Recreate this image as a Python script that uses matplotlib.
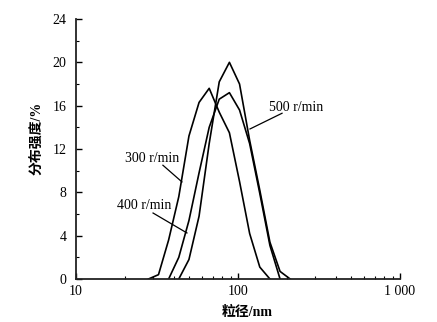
import numpy as np
import matplotlib.pyplot as plt
from matplotlib.ticker import FixedLocator, LogLocator, MultipleLocator, NullFormatter

plt.rcParams['font.family'] = ['Liberation Serif', 'Noto Sans CJK SC']

# particle size bins (nm) and distribution intensity (%) for each stirring speed
size_300 = [28.0, 32.3, 37.3, 43.1, 49.8, 57.5, 66.4, 76.6, 88.5, 102.2, 118.0, 136.3, 157.4]
dist_300 = [0, 0.4, 3.6, 7.6, 13.2, 16.3, 17.6, 15.4, 13.5, 9.0, 4.2, 1.1, 0]

size_400 = [37.3, 43.1, 49.8, 57.5, 66.4, 76.6, 88.5, 102.2, 118.0, 136.3, 157.4, 181.8]
dist_400 = [0, 2.0, 5.4, 9.8, 14.0, 16.6, 17.2, 15.6, 12.5, 7.9, 3.1, 0]

size_500 = [43.1, 49.8, 57.5, 66.4, 76.6, 88.5, 102.2, 118.0, 136.3, 157.4, 181.8, 209.9]
dist_500 = [0, 1.8, 5.8, 12.5, 18.2, 20.0, 18.0, 12.8, 8.2, 3.4, 0.7, 0]

fig = plt.figure(figsize=(4.37, 3.22), dpi=100)
ax = fig.add_axes([76 / 437, 43 / 322, 324 / 437, 260 / 322])

for x, y in [(size_300, dist_300), (size_400, dist_400), (size_500, dist_500)]:
    ax.plot(x, y, color='black', lw=1.2)

ax.set_xscale('log')
ax.set_xlim(10, 1000)
ax.set_ylim(0, 24)

ax.xaxis.set_major_locator(FixedLocator([10, 100, 1000]))
ax.set_xticklabels(['10', '100', '1 000'])
ax.xaxis.set_minor_locator(LogLocator(base=10, subs=np.arange(2, 10)))
ax.xaxis.set_minor_formatter(NullFormatter())
ax.yaxis.set_major_locator(MultipleLocator(4))
ax.yaxis.set_minor_locator(MultipleLocator(2))

for s in ['top', 'right']:
    ax.spines[s].set_visible(False)
for s in ['left', 'bottom']:
    ax.spines[s].set_linewidth(1.3)
    ax.spines[s].set_color('#222222')

ax.tick_params(which='major', direction='in', length=4, width=1, labelsize=10, pad=4)
ax.tick_params(axis='y', which='major', pad=7)
ax.tick_params(which='minor', direction='in', length=2.5, width=0.8)

ax.text(-0.12, 0.54, '分布强度/%', transform=ax.transAxes, rotation=90,
        ha='center', va='center', fontsize=10, fontweight='bold')
ax.text(0.53, -0.13, '粒径/nm', transform=ax.transAxes,
        ha='center', va='center', fontsize=10, fontweight='bold')

# speed labels with leader lines
ax.text(29.4, 11.1, '300 r/min', ha='center', va='center', fontsize=10)
ax.plot([34.4, 45.1], [10.5, 8.96], color='black', lw=0.9)
ax.text(26.3, 6.74, '400 r/min', ha='center', va='center', fontsize=10)
ax.plot([29.9, 48.4], [6.09, 4.25], color='black', lw=0.9)
ax.text(228, 15.8, '500 r/min', ha='center', va='center', fontsize=10)
ax.plot([187, 118.6], [15.3, 13.85], color='black', lw=0.9)

fig.savefig('out.png', dpi=100)
